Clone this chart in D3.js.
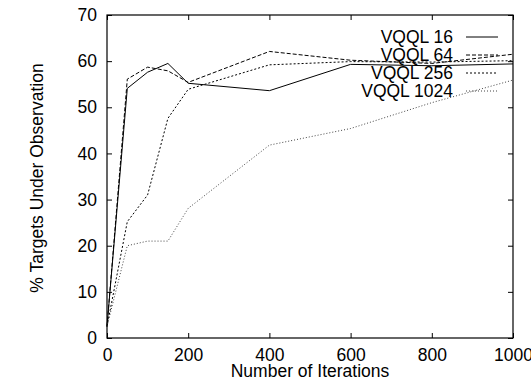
<!DOCTYPE html>
<html>
<head>
<meta charset="utf-8">
<script src="https://cdn.jsdelivr.net/npm/d3@7"></script>
<style>
  html, body { margin: 0; padding: 0; background: #fff; overflow: hidden; }
  svg { display: block; font-family: "Liberation Sans", Arial, sans-serif; }
</style>
</head>
<body>
<div id="chart"></div>
<script>
// data
const iterations = [0, 50, 100, 150, 200, 400, 600, 800, 1000];
const vqql16 = [2.5, 54.1, 57.6, 59.5, 55.2, 53.6, 59.3, 59.0, 59.4];
const vqql64 = [2.5, 56.1, 58.7, 57.9, 55.4, 62.1, 60.2, 59.5, 61.5];
const vqql256 = [2.5, 25.2, 31.0, 47.6, 53.9, 59.2, 59.9, 59.8, 60.1];
const vqql1024 = [2.5, 20.0, 21.0, 21.0, 28.1, 41.8, 45.4, 51.0, 55.9];
const seriesNames = ['VQQL 16', 'VQQL 64', 'VQQL 256', 'VQQL 1024'];
const xTicks = [0, 200, 400, 600, 800, 1000];
const yTicks = [0, 10, 20, 30, 40, 50, 60, 70];

const series = [
  { name: seriesNames[0], values: vqql16, stroke: '#000', dash: null },
  { name: seriesNames[1], values: vqql64, stroke: '#000', dash: '4,2' },
  { name: seriesNames[2], values: vqql256, stroke: '#000', dash: '2,2' },
  { name: seriesNames[3], values: vqql1024, stroke: '#444', dash: '1,2' }
];

const width = 531, height = 384;
const margin = { top: 15, right: 18, bottom: 46, left: 107 };
const innerW = width - margin.left - margin.right;
const innerH = height - margin.top - margin.bottom;

const svg = d3.select('#chart').append('svg')
  .attr('width', width)
  .attr('height', height);

const g = svg.append('g')
  .attr('transform', `translate(${margin.left},${margin.top})`);

const x = d3.scaleLinear().domain([0, 1000]).range([0, innerW]);
const y = d3.scaleLinear().domain([0, 70]).range([innerH, 0]);

const tickLen = 5;

// axes with inward ticks (gnuplot style, mirrored)
const styleAxis = sel => {
  sel.select('.domain').remove();
  sel.selectAll('line').attr('stroke', '#000').attr('stroke-width', 1);
};

const xAxis = g.append('g')
  .attr('transform', `translate(0,${innerH})`)
  .call(d3.axisBottom(x).tickValues(xTicks).tickSize(-tickLen).tickPadding(11).tickFormat(d3.format('d')));
xAxis.call(styleAxis);
xAxis.selectAll('text')
  .attr('fill', '#000')
  .style('font-size', '17.5px');

g.append('g')
  .call(d3.axisTop(x).tickValues(xTicks).tickSize(-tickLen).tickFormat(''))
  .call(styleAxis);

const yAxis = g.append('g')
  .call(d3.axisLeft(y).tickValues(yTicks).tickSize(-tickLen).tickPadding(10));
yAxis.call(styleAxis);
yAxis.selectAll('text')
  .attr('fill', '#000')
  .style('font-size', '17.5px');

g.append('g')
  .attr('transform', `translate(${innerW},0)`)
  .call(d3.axisRight(y).tickValues(yTicks).tickSize(-tickLen).tickFormat(''))
  .call(styleAxis);

// frame
g.append('rect')
  .attr('x', 0)
  .attr('y', 0)
  .attr('width', innerW)
  .attr('height', innerH)
  .attr('fill', 'none')
  .attr('stroke', '#000')
  .attr('stroke-width', 1.2);

// lines
const line = d3.line()
  .x((d, i) => x(iterations[i]))
  .y(d => y(d));

series.forEach(s => {
  g.append('path')
    .datum(s.values)
    .attr('d', line)
    .attr('fill', 'none')
    .attr('stroke', s.stroke)
    .attr('stroke-width', 1)
    .attr('stroke-dasharray', s.dash);
});

// legend (top right, text right-aligned, sample to the right)
const legend = svg.append('g').attr('transform', 'translate(453,42.5)');
series.forEach((s, i) => {
  const row = legend.append('g').attr('transform', `translate(0,${i * 18})`);
  row.append('text')
    .attr('x', 0)
    .attr('y', 0)
    .attr('text-anchor', 'end')
    .style('font-size', '17.5px')
    .text(s.name);
  row.append('line')
    .attr('x1', 13)
    .attr('x2', 45)
    .attr('y1', -5.5)
    .attr('y2', -5.5)
    .attr('stroke', s.stroke)
    .attr('stroke-width', 1)
    .attr('stroke-dasharray', s.dash);
});

// axis titles
svg.append('text')
  .attr('x', margin.left + innerW / 2)
  .attr('y', 376.5)
  .attr('text-anchor', 'middle')
  .style('font-size', '17.5px')
  .text('Number of Iterations');

svg.append('text')
  .attr('transform', 'translate(43,178) rotate(-90)')
  .attr('text-anchor', 'middle')
  .style('font-size', '17.5px')
  .text('% Targets Under Observation');
</script>
</body>
</html>
